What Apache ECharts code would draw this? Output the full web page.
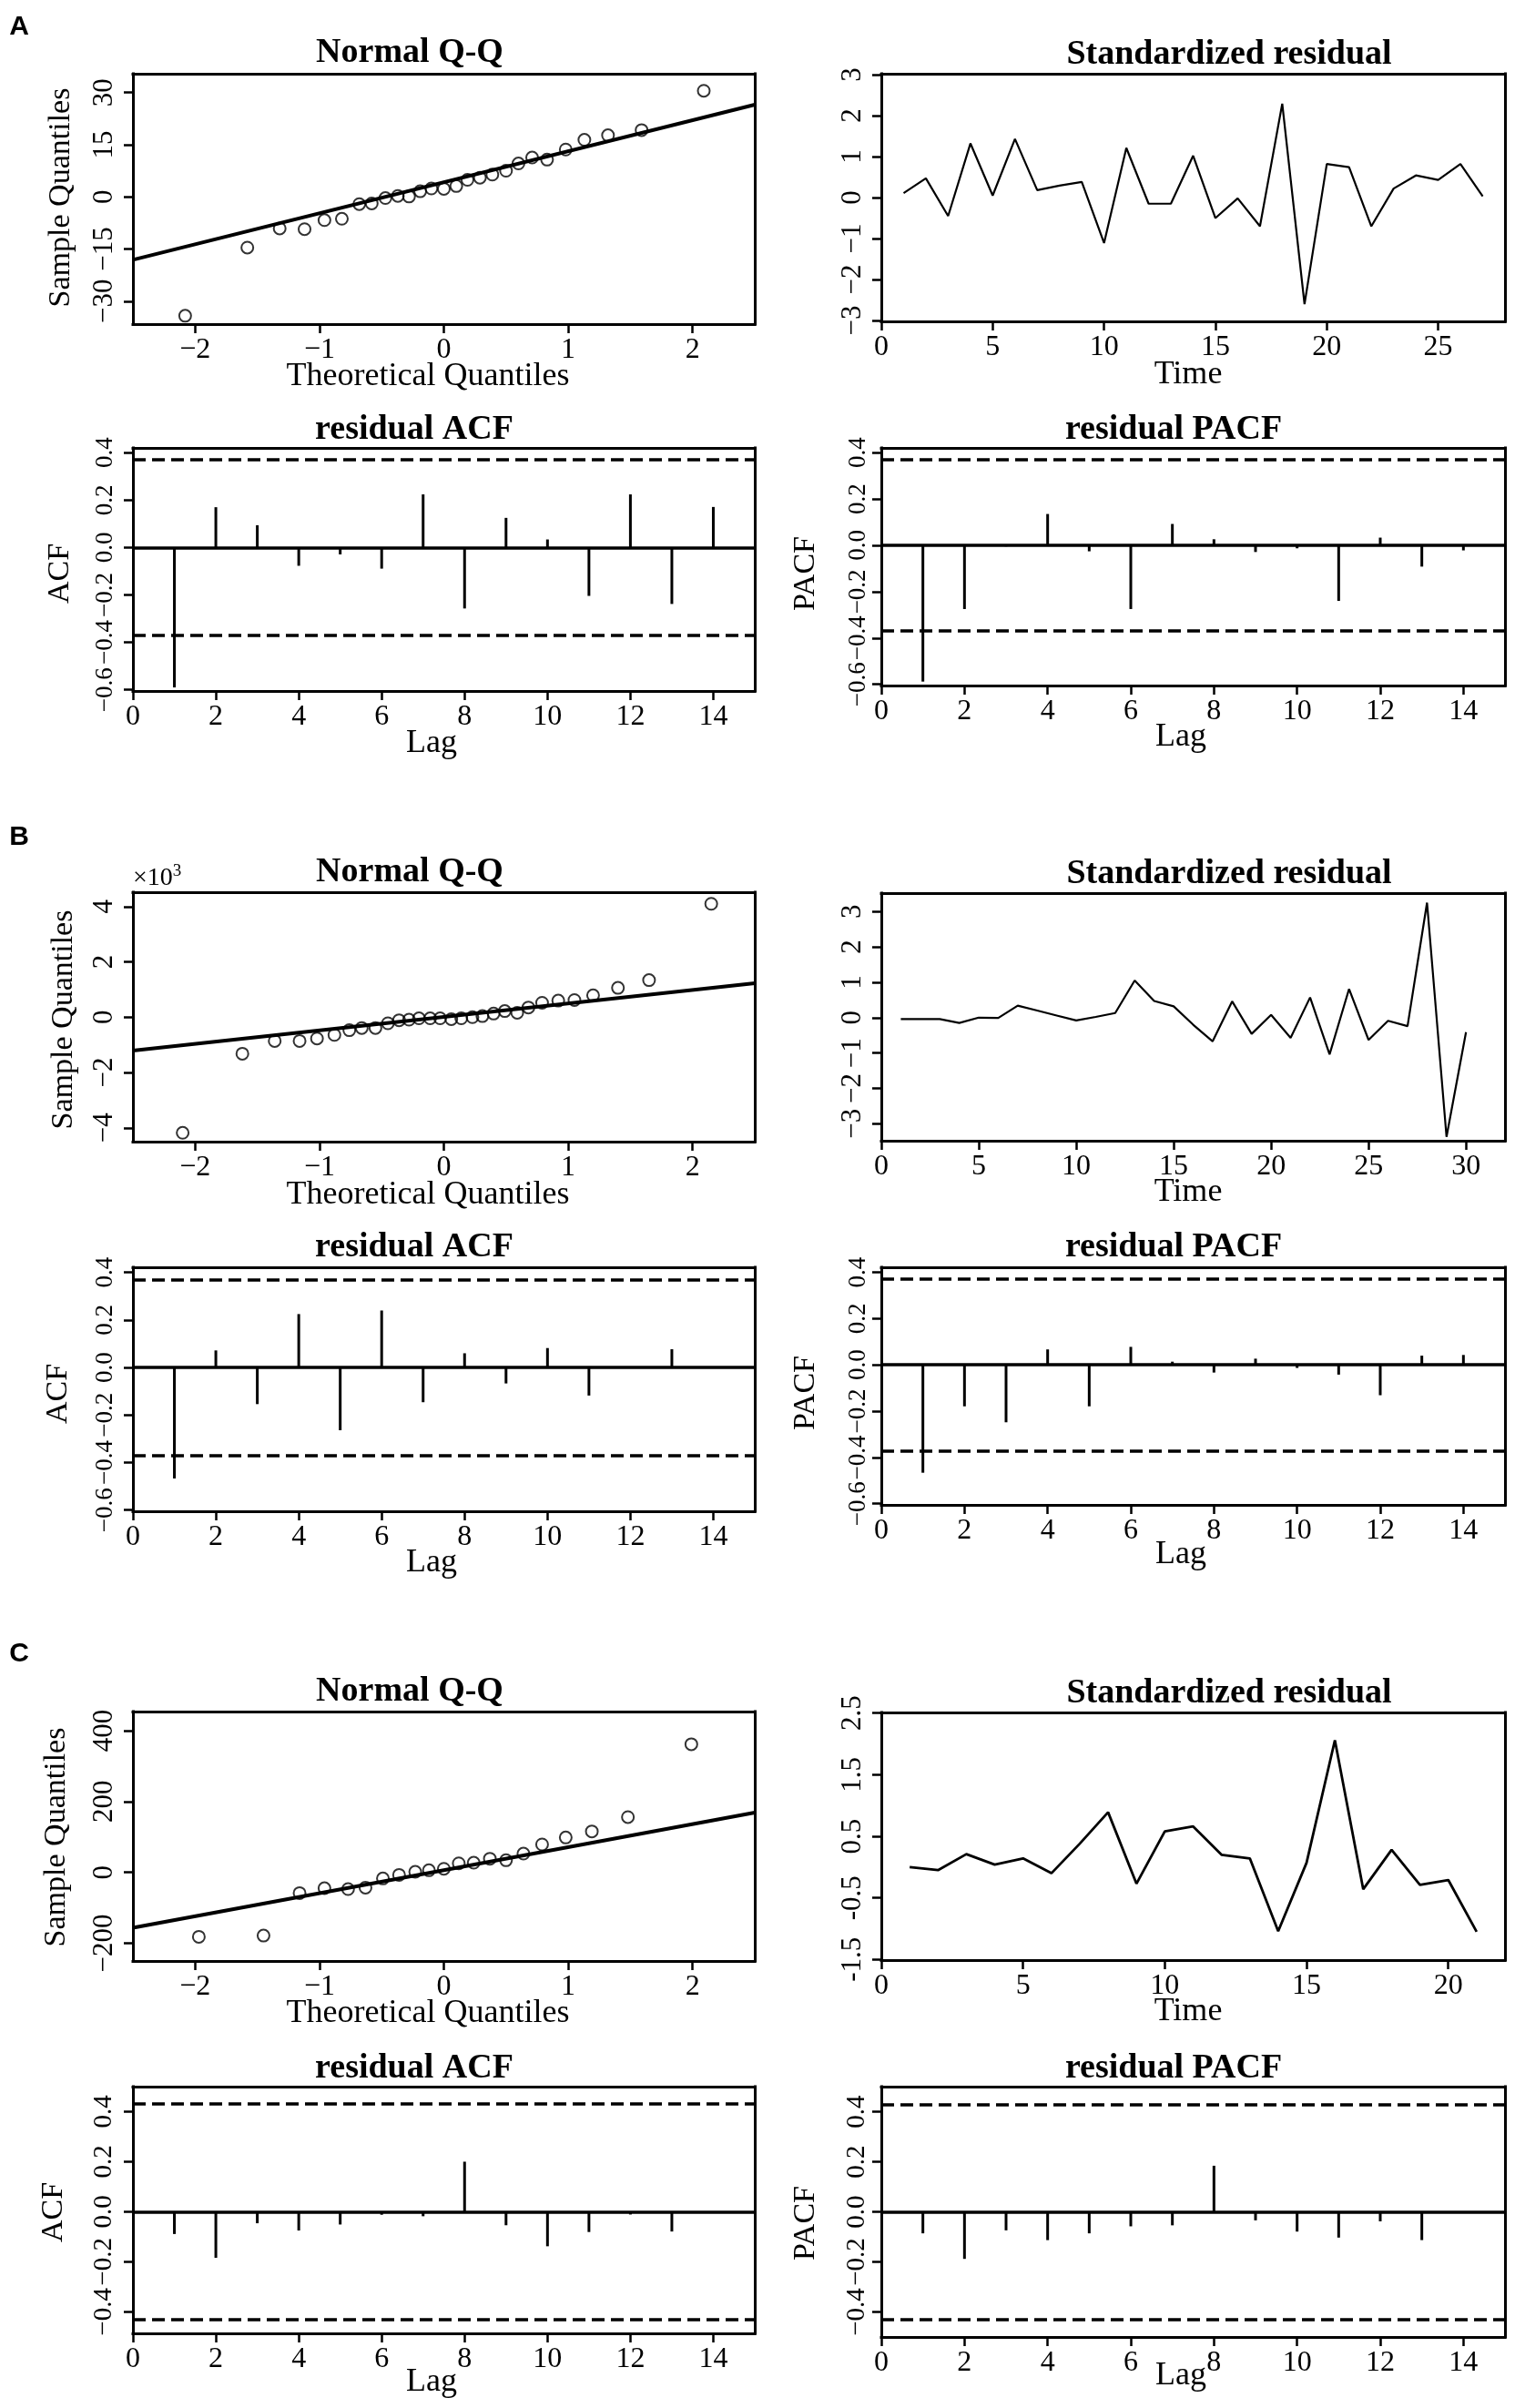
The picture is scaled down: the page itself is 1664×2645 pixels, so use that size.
<!DOCTYPE html>
<html><head><meta charset="utf-8">
<script src="https://cdn.jsdelivr.net/npm/echarts@6/dist/echarts.min.js"></script>
<style>html,body{margin:0;padding:0;background:#fff}#c{width:1664px;height:2645px}</style>
</head><body><div id="c"></div>
<script>
// ---------------- DATA ----------------
const lags = [1,2,3,4,5,6,7,8,9,10,11,12,13,14];

// Panel A
const qqA_theo = [-2.08,-1.58,-1.32,-1.12,-0.96,-0.82,-0.68,-0.58,-0.47,-0.37,-0.28,-0.19,-0.10,0.00,0.10,0.19,0.29,0.39,0.50,0.60,0.71,0.83,0.98,1.13,1.32,1.59,2.09];
const qqA_sample = [-34.2,-14.6,-9.1,-9.3,-6.7,-6.3,-2.1,-1.9,-0.35,0.26,0.1,1.6,2.4,2.3,3.1,4.9,5.5,6.4,7.5,9.6,11.3,10.7,13.6,16.4,17.7,19.2,30.5];
const qqA_line = [[-2.5,-18.1],[2.5,26.5]];
const stdA = [0.11,0.47,-0.45,1.32,0.05,1.43,0.18,0.29,0.38,-1.11,1.21,-0.15,-0.15,1.02,-0.5,-0.02,-0.7,2.29,-2.6,0.82,0.74,-0.7,0.22,0.54,0.43,0.82,0.03];
const acfA = [-0.59,0.17,0.094,-0.077,-0.029,-0.089,0.224,-0.257,0.125,0.034,-0.204,0.224,-0.238,0.171];
const pacfA = [-0.588,-0.275,-0.005,0.135,-0.026,-0.275,0.092,0.026,-0.029,-0.013,-0.24,0.033,-0.092,-0.022];
const ciA = 0.368;

// Panel B (sample quantiles in thousands)
const qqB_theo = [-2.10,-1.62,-1.36,-1.16,-1.02,-0.88,-0.76,-0.66,-0.55,-0.45,-0.36,-0.28,-0.20,-0.11,-0.03,0.06,0.14,0.23,0.31,0.40,0.49,0.59,0.68,0.79,0.92,1.05,1.20,1.40,1.65,2.15];
const qqB_sample = [-4.18,-1.32,-0.86,-0.86,-0.77,-0.64,-0.47,-0.39,-0.39,-0.22,-0.11,-0.09,-0.04,-0.04,-0.04,-0.07,-0.04,0,0.04,0.13,0.22,0.16,0.35,0.52,0.60,0.62,0.79,1.06,1.34,4.10];
const qqB_line = [[-2.5,-1.21],[2.5,1.23]];
const stdB = [-0.04,-0.04,-0.04,-0.15,0.0,-0.01,0.34,0.2,0.06,-0.08,0.02,0.13,1.05,0.47,0.32,-0.2,-0.67,0.46,-0.46,0.08,-0.57,0.57,-1.04,0.81,-0.63,-0.09,-0.24,3.25,-3.37,-0.41];
const acfB = [-0.467,0.072,-0.154,0.225,-0.264,0.24,-0.146,0.06,-0.067,0.082,-0.118,0.0,0.077,0.0];
const pacfB = [-0.466,-0.179,-0.248,0.067,-0.179,0.078,0.014,-0.033,0.027,-0.013,-0.042,-0.131,0.04,0.043];
const ciB = 0.368;

// Panel C
const qqC_theo = [-1.97,-1.45,-1.16,-0.96,-0.77,-0.63,-0.49,-0.36,-0.23,-0.12,0,0.12,0.24,0.37,0.50,0.64,0.79,0.98,1.19,1.48,1.99];
const qqC_sample = [-181.7,-178.3,-58.3,-44.6,-47.1,-42.9,-17.1,-6.9,1.7,6,10.3,25.7,27.4,38.6,34.3,53.1,78.9,98.6,115.7,156,361.7];
const qqC_line = [[-2.5,-156],[2.5,168.8]];
const stdC = [0.0,-0.05,0.21,0.04,0.14,-0.10,0.38,0.89,-0.27,0.58,0.66,0.20,0.14,-1.04,0.07,2.06,-0.36,0.28,-0.29,-0.21,-1.05];
const acfC = [-0.089,-0.184,-0.046,-0.075,-0.051,-0.012,-0.018,0.2,-0.054,-0.138,-0.081,-0.011,-0.079,0];
const pacfC = [-0.086,-0.188,-0.074,-0.113,-0.086,-0.058,-0.054,0.184,-0.034,-0.079,-0.103,-0.038,-0.113,0];
const ciC = 0.435;

// Tick labels
const qqXTicks = [-2,-1,0,1,2];
const qqAYTicks = [-30,-15,0,15,30];
const qqBYTicks = [-4,-2,0,2,4];
const qqCYTicks = [-200,0,200,400];
const stdAXTicks = [0,5,10,15,20,25];
const stdBXTicks = [0,5,10,15,20,25,30];
const stdCXTicks = [0,5,10,15,20];
const stdABYTicks = [-3,-2,-1,0,1,2,3];
const stdCYTicks = [-1.5,-0.5,0.5,1.5,2.5];
const lagTicks = [0,2,4,6,8,10,12,14];
const acfABYTicks = [-0.6,-0.4,-0.2,0,0.2,0.4];
const acfCYTicks = [-0.4,-0.2,0,0.2,0.4];

// ---------------- BUILD ----------------
const F = 'Liberation Serif';
const minus = v => String(v).replace('-', '\u2212');
const grids = [], xAxes = [], yAxes = [], series = [], graphics = [];
const LINE = {show: true, onZero: false, lineStyle: {color: '#000', width: 3, cap: 'square'}};

function panel(box, xr, xt, yr, yt, o) {
  o = o || {};
  const g = grids.length;
  grids.push({left: box[0], top: box[1], width: box[2]-box[0], height: box[3]-box[1], containLabel: false});
  const tick = {show: true, inside: false, length: 10, lineStyle: {color: '#000', width: 2.5}};
  const xi = xAxes.length, yi = yAxes.length;
  xAxes.push({gridIndex: g, type: 'value', position: 'bottom', min: xr[0], max: xr[1],
    axisLine: LINE, splitLine: {show: false},
    axisTick: Object.assign({}, tick, {customValues: xt}),
    axisLabel: {fontFamily: F, fontSize: 32, color: '#000', margin: 13, customValues: xt, hideOverlap: false,
      formatter: o.xfmt || (v => minus(v))}});
  xAxes.push({gridIndex: g, type: 'value', position: 'top', min: xr[0], max: xr[1],
    axisLine: LINE, splitLine: {show: false}, axisTick: {show: false}, axisLabel: {show: false}});
  yAxes.push({gridIndex: g, type: 'value', position: 'left', min: yr[0], max: yr[1],
    axisLine: LINE, splitLine: {show: false},
    axisTick: Object.assign({}, tick, {customValues: yt}),
    axisLabel: {fontFamily: F, fontSize: o.ys || 31, color: '#000', rotate: 90, margin: o.ym || 16, customValues: yt,
      hideOverlap: false, showMinLabel: true, showMaxLabel: true, formatter: o.yfmt || (v => minus(v))}});
  yAxes.push({gridIndex: g, type: 'value', position: 'right', min: yr[0], max: yr[1],
    axisLine: LINE, splitLine: {show: false}, axisTick: {show: false}, axisLabel: {show: false}});
  return [xi, yi];
}

function qq(ax, theo, sample, line) {
  series.push({type: 'scatter', xAxisIndex: ax[0], yAxisIndex: ax[1], data: theo.map((t, k) => [t, sample[k]]),
    symbol: 'circle', symbolSize: 13, itemStyle: {color: 'rgba(0,0,0,0)', borderColor: '#000', borderWidth: 2}, silent: true});
  series.push({type: 'line', xAxisIndex: ax[0], yAxisIndex: ax[1], data: line, symbol: 'none',
    lineStyle: {color: '#000', width: 4}, silent: true});
}
function ts(ax, vals, w) {
  series.push({type: 'line', xAxisIndex: ax[0], yAxisIndex: ax[1], data: vals.map((v, k) => [k+1, v]), symbol: 'none',
    lineStyle: {color: '#000', width: w || 2.2}, silent: true});
}
function cf(ax, vals, ci) {
  series.push({type: 'bar', xAxisIndex: ax[0], yAxisIndex: ax[1], data: lags.map((l, k) => [l, vals[k]]),
    barWidth: 3, itemStyle: {color: '#000'}, silent: true,
    markLine: {silent: true, symbol: ['none','none'], label: {show: false}, lineStyle: {color: '#000'},
      data: [
        {yAxis: 0, lineStyle: {type: 'solid', width: 3.5, color: '#000'}},
        {yAxis: ci, lineStyle: {type: [14, 7], width: 3.5, color: '#000'}},
        {yAxis: -ci, lineStyle: {type: [14, 7], width: 3.5, color: '#000'}}
      ]}});
}
const f1 = v => minus(v.toFixed(1));

// Section A
let a;
a = panel([146,81,829,356], [-2.5,2.5], qqXTicks, [-36.6,35.4], qqAYTicks); qq(a, qqA_theo, qqA_sample, qqA_line);
a = panel([968,81,1653,353], [0,28], stdAXTicks, [-3.02,3.02], stdABYTicks); ts(a, stdA);
a = panel([146,492,829,759], [0,15], lagTicks, [-0.605,0.42], acfABYTicks, {yfmt: f1, ys: 27, ym: 17}); cf(a, acfA, ciA);
a = panel([968,492,1653,753], [0,15], lagTicks, [-0.605,0.42], acfABYTicks, {yfmt: f1, ym: 12, ys: 27}); cf(a, pacfA, ciA);
// Section B
a = panel([146,980,829,1254], [-2.5,2.5], qqXTicks, [-4.5,4.52], qqBYTicks); qq(a, qqB_theo, qqB_sample, qqB_line);
a = panel([968,981,1653,1253], [0,32], stdBXTicks, [-3.48,3.52], stdABYTicks); ts(a, stdB);
a = panel([146,1392,829,1660], [0,15], lagTicks, [-0.605,0.422], acfABYTicks, {yfmt: f1, ys: 27, ym: 17}); cf(a, acfB, ciB);
a = panel([968,1392,1653,1653], [0,15], lagTicks, [-0.605,0.422], acfABYTicks, {yfmt: f1, ym: 12, ys: 27}); cf(a, pacfB, ciB);
// Section C
a = panel([146,1880,829,2154], [-2.5,2.5], qqXTicks, [-250,454], qqCYTicks); qq(a, qqC_theo, qqC_sample, qqC_line);
a = panel([968,1881,1653,2153], [0,22], stdCXTicks, [-1.51,2.51], stdCYTicks, {yfmt: v => v.toFixed(1)}); ts(a, stdC, 2.8);
a = panel([146,2292,829,2563], [0,15], lagTicks, [-0.486,0.5], acfCYTicks, {yfmt: f1, ys: 29, ym: 17}); cf(a, acfC, ciC);
a = panel([968,2292,1653,2567], [0,15], lagTicks, [-0.5,0.5], acfCYTicks, {yfmt: f1, ym: 12, ys: 29}); cf(a, pacfC, ciC);

// Texts
function txt(s, x, y, size, opt) {
  opt = opt || {};
  const st = {text: s, fontFamily: opt.family || F, fontSize: size, fontWeight: opt.bold ? 'bold' : 'normal',
    fill: '#000', align: opt.align || 'center', verticalAlign: 'middle'};
  if (opt.rich) st.rich = opt.rich;
  graphics.push({type: 'text', x: x, y: y, rotation: opt.rot || 0, silent: true, style: st});
}
const T = 38, AX = 36, AY = 34;
// section letters
txt('A', 21, 30, 30, {family: 'Liberation Sans', bold: true});
txt('B', 21, 920, 30, {family: 'Liberation Sans', bold: true});
txt('C', 21, 1817, 30, {family: 'Liberation Sans', bold: true});
txt('{a|×10}{b|3}', 146, 965, 28, {align: 'left', rich: {
  a: {fontFamily: F, fontSize: 28, fill: '#000'},
  b: {fontFamily: F, fontSize: 19, fill: '#000', padding: [0, 0, 16, 0]}}});
// titles
[[58,60,472],[958,960,1370],[1858,1860,2272]].forEach(r => {
  txt('Normal Q-Q', 450, r[0], T, {bold: true});
  txt('Standardized residual', 1350, r[1], T, {bold: true});
  txt('residual ACF', 455, r[2], T, {bold: true});
  txt('residual PACF', 1289, r[2], T, {bold: true});
});
// axis titles
txt('Theoretical Quantiles', 470, 414, AX);
txt('Time', 1305, 412, AX);
txt('Lag', 474, 817, AX);
txt('Lag', 1297, 810, AX);
txt('Theoretical Quantiles', 470, 1313, AX);
txt('Time', 1305, 1310, AX);
txt('Lag', 474, 1717, AX);
txt('Lag', 1297, 1708, AX);
txt('Theoretical Quantiles', 470, 2212, AX);
txt('Time', 1305, 2210, AX);
txt('Lag', 474, 2617, AX);
txt('Lag', 1297, 2610, AX);
const ROT = Math.PI / 2;
txt('Sample Quantiles', 67, 217, AY, {rot: ROT});
txt('ACF', 66, 630, AY, {rot: ROT});
txt('PACF', 885, 630, AY, {rot: ROT});
txt('Sample Quantiles', 70, 1120, AY, {rot: ROT});
txt('ACF', 64, 1531, AY, {rot: ROT});
txt('PACF', 885, 1530, AY, {rot: ROT});
txt('Sample Quantiles', 62, 2018, AY, {rot: ROT});
txt('ACF', 59, 2430, AY, {rot: ROT});
txt('PACF', 885, 2442, AY, {rot: ROT});

const chart = echarts.init(document.getElementById('c'), null, {renderer: 'canvas', width: 1664, height: 2645});
chart.setOption({
  animation: false,
  backgroundColor: '#fff',
  grid: grids, xAxis: xAxes, yAxis: yAxes, series: series, graphic: graphics
});
</script>
</body></html>
